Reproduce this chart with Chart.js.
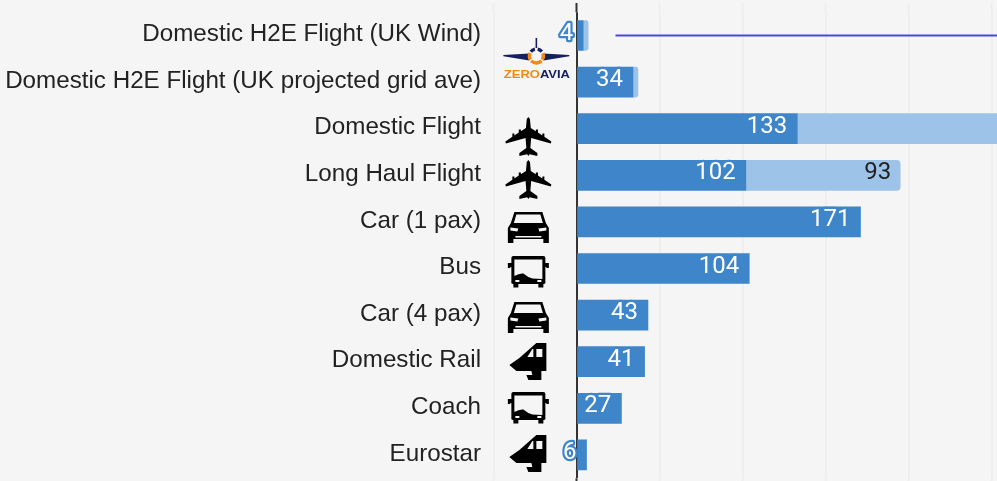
<!DOCTYPE html>
<html><head><meta charset="utf-8">
<script src="https://cdn.jsdelivr.net/npm/chart.js@4"></script>
<style>html,body{margin:0;padding:0;background:#f5f5f5;overflow:hidden}#w{position:relative;width:997px;height:481px}</style>
</head><body><div id="w"><canvas id="c" width="997" height="481"></canvas></div>
<script>
const categories = ['Domestic H2E Flight (UK Wind)','Domestic H2E Flight (UK projected grid ave)','Domestic Flight','Long Haul Flight','Car (1 pax)','Bus','Car (4 pax)','Domestic Rail','Coach','Eurostar'];
const wellToWheel = [4,34,133,102,171,104,43,41,27,6];
const radiativeForcing = [3,3,160,93,0,0,0,0,0,0];
const referenceLineX = [23.5,260];
const icons = ['logo','plane','plane','car','bus','car','train','bus','train'];
const iconRowIndex = [1,2,3,4,5,6,7,8,9];
const iconDy = [0,-11.7,-15.3,-9.9,-12.5,-13.1,-18.7,-16.3,-19.9];

const BLUE='#3f85c9', LIGHT='#9dc3e8', GRID='#eeeeee', AXIS='#333333', LINE='#4a4ad2', BG='#f5f5f5';

const plane=new Path2D('M0 0L1.6 2 2.4 11 7.5 14.2V12.6H9.6V15.6L14 18.4V16.6H16V19.8L23 24.6 22.5 26.6 2.8 21 2 31 9 36V39L1.2 37.2 0 39-1.2 37.2-9 39V36L-2 31-2.8 21-22.5 26.6-23 24.6-16 19.8V16.6H-14V18.4L-9.6 15.6V12.6H-7.5V14.2L-2.4 11-1.6 2Z');
const car=new Path2D('M-14 0H14L17.5 11 20.5 16V31H15V27H-15V31H-20.5V16L-17.5 11ZM-12 2.5L-14.5 11H14.5L12 2.5ZM-18 15.5V18.5L-11 19.5-10 16.5ZM18 15.5V18.5L11 19.5 10 16.5ZM-13 24V25.5H13V24Z');
const bus=new Path2D('M-15 0H15Q17 0 17 2V7H20.5V12H18V11H17V27Q17 28 15 28V31.5H10V28H-10V31.5H-15V28Q-17 28-17 27V11H-18V12H-20.5V7H-17V2Q-17 0-15 0ZM-14 3.5V20Q-9 17-5 17.5-1 21 4 22.5L14 23V3.5ZM-13 24V26H-9V24ZM13 24V26H9V24Z');
const train=new Path2D('M8 0H18V28H13L13 37H0L-2 32H4L3 28H-12L-19 22-9 15ZM4 6L-1 14H5V6ZM8 6V14H14V6Z');

function drawLogo(ctx,cx,cy){
  const NAVY='#14205e', ORANGE='#f08a12';
  ctx.fillStyle=NAVY;
  ctx.beginPath();ctx.moveTo(cx-33,cy+2);ctx.lineTo(cx-33,cy+3.2);ctx.lineTo(cx-7,cy+7.5);ctx.lineTo(cx-7,cy+0.5);ctx.closePath();ctx.fill();
  ctx.beginPath();ctx.moveTo(cx+33,cy+2);ctx.lineTo(cx+33,cy+3.2);ctx.lineTo(cx+7,cy+7.5);ctx.lineTo(cx+7,cy+0.5);ctx.closePath();ctx.fill();
  ctx.fillRect(cx-0.8,cy-15,1.6,10);
  ctx.lineWidth=3.4;
  [[-0.4,0.55,ORANGE],[0.75,2.4,ORANGE],[2.6,3.6,ORANGE],[3.8,4.5,NAVY],[4.9,5.6,NAVY]].forEach(a=>{
    ctx.strokeStyle=a[2];ctx.beginPath();ctx.arc(cx,cy+3,7,a[0],a[1]);ctx.stroke();});
  ctx.save();
  ctx.textBaseline='alphabetic';ctx.textAlign='left';
  ctx.translate(cx-32.5,cy+25);ctx.scale(1.18,1);
  ctx.font='bold 11px "Liberation Sans"';
  ctx.fillStyle=ORANGE;ctx.fillText('ZERO',0,0);
  const w=ctx.measureText('ZERO').width;
  ctx.fillStyle=NAVY;ctx.fillText('AVIA',w,0);
  ctx.restore();
}

const overlay={
  id:'overlay',
  beforeDatasetsDraw(chart){
    const {ctx,scales:{x},chartArea:a}=chart;
    ctx.save();
    x.ticks.forEach(t=>{
      const px=x.getPixelForValue(t.value);
      ctx.strokeStyle=t.value===0?AXIS:GRID;ctx.lineWidth=2;
      ctx.beginPath();ctx.moveTo(px,3);ctx.lineTo(px,a.top);ctx.moveTo(px,a.bottom);ctx.lineTo(px,481);ctx.stroke();
    });
    ctx.restore();
  },
  afterDatasetsDraw(chart){
    const {ctx,scales:{x,y}}=chart;
    ctx.save();
    chart.getDatasetMeta(0).data.forEach((el,i)=>{
      const v=wellToWheel[i];
      ctx.font='400 24px Roboto';ctx.textAlign='right';ctx.textBaseline='middle';
      ctx.lineJoin='round';ctx.lineWidth=4.5;ctx.strokeStyle=BLUE;ctx.fillStyle='#ffffff';
      const tx=x.getPixelForValue(v)-10, ty=y.getPixelForValue(i)-2;
      ctx.strokeText(String(v),tx,ty);ctx.fillText(String(v),tx,ty);
    });
    radiativeForcing.forEach((v,i)=>{
      if(v<10)return;
      ctx.font='400 24px Roboto';ctx.textAlign='right';ctx.textBaseline='middle';ctx.fillStyle='#222222';
      ctx.fillText(String(v),x.getPixelForValue(wellToWheel[i]+v)-9,y.getPixelForValue(i)-2);
    });
    icons.forEach((k,n)=>{
      const cy=y.getPixelForValue(iconRowIndex[n])+iconDy[n];
      const cx=x.getPixelForValue(-29);
      if(k==='logo'){drawLogo(ctx,cx+8,cy-29.1);return;}
      ctx.save();ctx.translate(cx,cy);ctx.fillStyle='#000000';
      ctx.fill({plane,car,bus,train}[k],'evenodd');
      ctx.restore();
    });
    ctx.restore();
  }
};

new Chart(document.getElementById('c'),{
  type:'bar',
  plugins:[overlay],
  data:{labels:categories,datasets:[
    {label:'Well to wheel',data:wellToWheel,backgroundColor:BLUE,stack:'a',barThickness:30,order:2},
    {label:'Radiative forcing',data:radiativeForcing,backgroundColor:LIGHT,stack:'a',barThickness:30,order:2,
     borderRadius:{topRight:4,bottomRight:4,topLeft:0,bottomLeft:0},borderSkipped:false},
    {type:'line',label:'Reference',indexAxis:'y',stack:'line',order:1,
     data:referenceLineX.map(v=>({x:v,y:categories[0]})),borderColor:LINE,borderWidth:2,pointRadius:0,fill:false}
  ]},
  options:{
    indexAxis:'y',responsive:false,animation:false,
    layout:{autoPadding:false,padding:{top:12.2,bottom:2.8}},
    plugins:{legend:{display:false},tooltip:{enabled:false}},
    scales:{
      x:{type:'linear',stacked:true,min:-50,max:253.3,afterBuildTicks(s){s.ticks=s.ticks.filter(t=>t.value%50===0);},
        afterFit(s){s.height=0;s.paddingLeft=0;s.paddingRight=0;},
        ticks:{display:false,stepSize:50,includeBounds:false},
        border:{display:false},
        grid:{drawTicks:false,lineWidth:2,color:c=>c.tick&&c.tick.value===0?AXIS:GRID}},
      y:{type:'category',stacked:true,afterFit(s){s.width=493.5;s.paddingTop=0;s.paddingBottom=0;},
        border:{display:false},grid:{display:false,drawTicks:false},
        ticks:{padding:12.5,labelOffset:-1,color:'#222222',font:{family:'"Liberation Sans"',size:24.2,weight:'400'},autoSkip:false}}
    }
  }
});
</script></body></html>
